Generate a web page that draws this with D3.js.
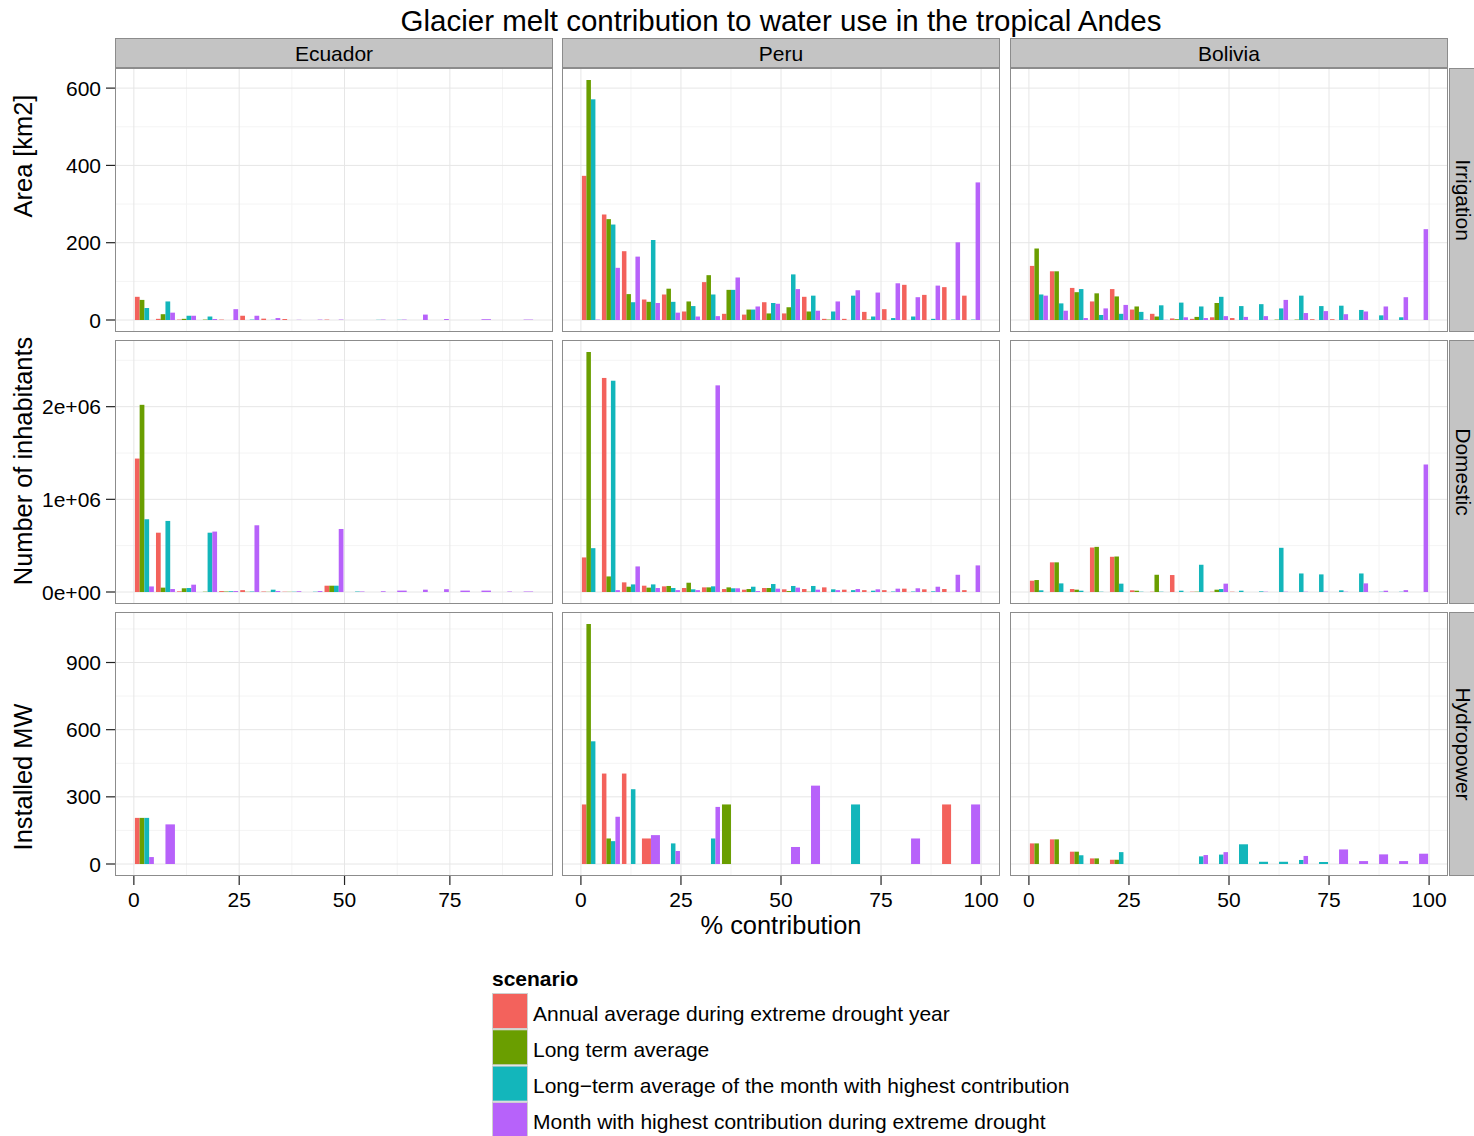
<!DOCTYPE html>
<html>
<head>
<meta charset="utf-8">
<title>Glacier melt contribution to water use in the tropical Andes</title>
<script src="https://cdnjs.cloudflare.com/ajax/libs/d3/7.8.5/d3.min.js"></script>
<style>
  body { margin: 0; background: #fff; }
  text { font-family: "Liberation Sans", Arial, sans-serif; fill: #000; }
</style>
</head>
<body>
<div id="chart"></div>
<script>
var countries = ["Ecuador", "Peru", "Bolivia"];
var uses = ["Irrigation", "Domestic", "Hydropower"];
var yTitles = ["Area [km2]", "Number of inhabitants", "Installed MW"];
var scenarios = [
  "Annual average during extreme drought year",
  "Long term average",
  "Long\u2212term average of the month with highest contribution",
  "Month with highest contribution during extreme drought"
];
var colors = ["#F3625C", "#6A9E00", "#13B6BB", "#B762FA"];

// bin centres of % contribution (5 % wide bins)
var bins = [2.5, 7.5, 12.5, 17.5, 22.5, 27.5, 32.5, 37.5, 42.5, 47.5,
            52.5, 57.5, 62.5, 67.5, 72.5, 77.5, 82.5, 87.5, 92.5, 97.5];

var xTicks = [0, 25, 50, 75, 100];
var irrigationTicks = [0, 200, 400, 600];
var domesticTicks = [0, 1e6, 2e6];
var domesticLabels = ["0e+00", "1e+06", "2e+06"];
var hydroTicks = [0, 300, 600, 900];

// one row per bin, one value per scenario; null = scenario absent in that bin
var ecuadorIrrigation = [
  [60, 52, 31, 0], [3, 15, 48, 19], [1, 3, 11, 11], [0, 1, 9, 2.5], [1, 0, 0, 28],
  [11, 0, 1, 11], [3.5, 0, 0.5, 5], [2.5, 0, 0, 0.5], [0, 0, 0, 1], [1, 0, 0, 1],
  [0, 0, 0, 0], [0, 0, 0.5, 1], [0, 0, 0.5, 1], [0, 0, 0, 14], [0, 0, 0, 2.5],
  [0, 0, 0, 0], [null, null, 0, 2], [0, 0, 0, 0], [null, null, 0, 1], null
];
var peruIrrigation = [
  [373, 621, 571, 1], [273, 261, 247, 135], [178, 67, 46, 164], [53, 47, 207, 44], [66, 81, 47, 19],
  [22, 48, 36, 9], [98, 116, 66, 10], [16, 78, 78, 110], [14, 27, 27, 35], [46, 17, 44, 42],
  [17, 33, 118, 80], [60, 22, 63, 24], [3, 1, 22, 48], [3, 0, 63, 77], [21, 1, 9, 71],
  [28, 0, 5, 95], [91, 0, 9, 59], [65, 0, 3, 89], [85, 0, 1, 201], [63, 0, 1, 356]
];
var boliviaIrrigation = [
  [140, 185, 66, 63], [126, 126, 43, 24], [83, 72, 80, 5], [48, 69, 13, 30], [80, 61, 16, 39],
  [27, 35, 21, 1], [16, 9, 38, 0.5], [4, 2, 45, 7], [3, 8, 35, 5], [7, 44, 60, 10],
  [5, 0, 36, 8], [0, 0, 41, 10], [0, 1, 30, 52], [0, 1, 63, 18], [2, 0, 36, 23],
  [2, 0, 37, 15], [0, 0, 26, 22], [0, 0, 12, 35], [0, 0, 7, 59], [0, 0, 0, 235]
];

var ecuadorDomestic = [
  [1440000, 2020000, 785000, 60000], [640000, 47000, 767000, 32000], [7000, 40000, 43000, 79000],
  [0, 3000, 640000, 652000], [10000, 5000, 8000, 10000], [20000, 2000, 5000, 720000],
  [5000, 2000, 25000, 10000], [3000, 2000, 3000, 8000], [0, 0, 3000, 10000],
  [68000, 68000, 68000, 680000], [0, 0, 5000, 5000], [0, 0, 0, 8000], [null, null, 0, 15000],
  [0, 0, 0, 25000], [0, 0, 0, 30000], [null, null, 0, 15000], [null, null, 0, 15000],
  [0, 0, 0, 5000], [null, null, 0, 5000], null
];
var peruDomestic = [
  [373000, 2590000, 473000, 0], [2310000, 168000, 2280000, 20000], [104000, 57000, 82000, 276000],
  [68000, 47000, 82000, 43000], [61000, 65000, 43000, 20000], [43000, 100000, 29000, 20000],
  [50000, 50000, 61000, 2230000], [32000, 50000, 40000, 40000], [25000, 32000, 57000, 10000],
  [43000, 43000, 86000, 36000], [29000, 10000, 65000, 47000], [32000, 3000, 65000, 25000],
  [50000, 0, 29000, 20000], [25000, 0, 20000, 32000], [20000, 0, 14000, 29000],
  [20000, 0, 5000, 36000], [36000, 0, 5000, 40000], [29000, 0, 7000, 57000],
  [32000, 0, 0, 186000], [20000, 0, 0, 287000]
];
var boliviaDomestic = [
  [122000, 129000, 18000, 0], [320000, 320000, 93000, 0], [32000, 25000, 14000, 0],
  [480000, 487000, 3000, 0], [380000, 383000, 90000, 0], [18000, 14000, 3000, 0],
  [3000, 186000, 3000, 0], [183000, 0, 14000, 0], [3000, 3000, 294000, 0],
  [3000, 25000, 32000, 90000], [3000, 0, 14000, 0], [0, 0, 7000, 3000],
  [0, 0, 477000, 3000], [0, 0, 200000, 3000], [0, 0, 190000, 3000],
  [0, 0, 18000, 3000], [0, 0, 200000, 93000], [0, 0, 3000, 14000],
  [0, 0, 3000, 20000], [0, 0, 0, 1376000]
];

var ecuadorHydro = [
  [206, 206, 206, 31], [null, null, 0, 177], null, null, null,
  null, null, null, null, null, null, null, null, null, null,
  null, null, null, null, null
];
var peruHydro = [
  [266, 1072, 548, 0], [404, 114, 102, 211], [404, 0, 334, 0], [114, null, null, 129], [0, 0, 92, 58],
  null, [0, 0, 114, 255], [null, 266, null, 0], null, null,
  [null, null, 0, 76], [null, null, 0, 350], null, [0, null, 266, null], null,
  null, [null, null, 0, 114], null, [266, null, null, 0], [null, null, 0, 266]
];
var boliviaHydro = [
  [92, 92, 0, 0], [110, 110, 0, 0], [55, 55, 39, 0], [25, 25, 0, 0], [19, 19, 53, 0],
  null, null, null, [0, 0, 34, 40], [0, 0, 42, 53],
  [null, 0, 88, null], [null, 0, 10, null], [null, 0, 10, null], [0, 0, 18, 36], [null, 0, 9, null],
  [null, null, 0, 65], [null, null, 0, 13], [null, null, 0, 43], [null, null, 0, 13], [null, null, 0, 46]
];

var panels = [
  [ecuadorIrrigation, peruIrrigation, boliviaIrrigation],
  [ecuadorDomestic, peruDomestic, boliviaDomestic],
  [ecuadorHydro, peruHydro, boliviaHydro]
];
var rowTicks = [irrigationTicks, domesticTicks, hydroTicks];
var rowLabels = [irrigationTicks.map(String), domesticLabels, hydroTicks.map(String)];

// layout
var width = 1474, height = 1136;
var colLeft = [115, 562, 1010];
var rowTop = [68, 340, 612];
var pw = 438, ph = 264;
var dodgeWidth = 4.5;

var svg = d3.select("#chart").append("svg")
  .attr("width", width)
  .attr("height", height);

// x scales: free per column, ggplot style 5% expansion of bar extent
var xScales = countries.map(function(c, ci) {
  var lo = Infinity, hi = -Infinity;
  panels.forEach(function(row) {
    row[ci].forEach(function(b, i) {
      if (b) {
        lo = Math.min(lo, bins[i] - dodgeWidth / 2);
        hi = Math.max(hi, bins[i] + dodgeWidth / 2);
      }
    });
  });
  var pad = (hi - lo) * 0.05;
  return d3.scaleLinear().domain([lo - pad, hi + pad]).range([colLeft[ci], colLeft[ci] + pw]);
});

// y scales: free per row
var yScales = uses.map(function(u, ri) {
  var mx = d3.max(panels[ri], function(p) {
    return d3.max(p, function(b) { return b ? d3.max(b) : 0; });
  });
  var pad = mx * 0.05;
  return d3.scaleLinear().domain([-pad, mx + pad]).range([rowTop[ri] + ph, rowTop[ri]]);
});

function minors(ticks, domain) {
  var step = ticks[1] - ticks[0];
  var out = [];
  for (var v = ticks[0] - step / 2; v <= domain[1]; v += step) {
    if (v >= domain[0]) out.push(v);
  }
  return out;
}

// title
svg.append("text")
  .attr("x", 781).attr("y", 31)
  .attr("text-anchor", "middle")
  .style("font-size", "29.5px")
  .text("Glacier melt contribution to water use in the tropical Andes");

panels.forEach(function(row, ri) {
  var y = yScales[ri];
  row.forEach(function(data, ci) {
    var x = xScales[ci];
    var g = svg.append("g");
    var x0 = colLeft[ci], y0 = rowTop[ri];

    g.append("rect").attr("x", x0).attr("y", y0).attr("width", pw).attr("height", ph).attr("fill", "#fff");

    // minor grid
    g.selectAll(".vminor").data(minors(xTicks, x.domain())).enter().append("line")
      .attr("x1", function(d) { return x(d); }).attr("x2", function(d) { return x(d); })
      .attr("y1", y0).attr("y2", y0 + ph)
      .attr("stroke", "#F4F4F4").attr("stroke-width", 1);
    g.selectAll(".hminor").data(minors(rowTicks[ri], y.domain())).enter().append("line")
      .attr("y1", function(d) { return y(d); }).attr("y2", function(d) { return y(d); })
      .attr("x1", x0).attr("x2", x0 + pw)
      .attr("stroke", "#F4F4F4").attr("stroke-width", 1);
    // major grid
    g.selectAll(".vmajor").data(xTicks.filter(function(t) { return t <= x.domain()[1]; })).enter().append("line")
      .attr("x1", function(d) { return x(d); }).attr("x2", function(d) { return x(d); })
      .attr("y1", y0).attr("y2", y0 + ph)
      .attr("stroke", "#E6E6E6").attr("stroke-width", 1);
    g.selectAll(".hmajor").data(rowTicks[ri]).enter().append("line")
      .attr("y1", function(d) { return y(d); }).attr("y2", function(d) { return y(d); })
      .attr("x1", x0).attr("x2", x0 + pw)
      .attr("stroke", "#E6E6E6").attr("stroke-width", 1);

    // dodged bars
    var bars = [];
    data.forEach(function(b, i) {
      if (!b) return;
      var present = [];
      b.forEach(function(v, s) { if (v !== null) present.push(s); });
      var w = dodgeWidth / present.length;
      present.forEach(function(s, k) {
        bars.push({ x0: bins[i] - dodgeWidth / 2 + k * w, x1: bins[i] - dodgeWidth / 2 + (k + 1) * w, v: b[s], s: s });
      });
    });
    g.selectAll(".bar").data(bars).enter().append("rect")
      .attr("x", function(d) { return x(d.x0); })
      .attr("width", function(d) { return x(d.x1) - x(d.x0); })
      .attr("y", function(d) { return y(d.v); })
      .attr("height", function(d) { return y(0) - y(d.v); })
      .attr("fill", function(d) { return colors[d.s]; });

    g.append("rect").attr("x", x0 + 0.5).attr("y", y0 + 0.5).attr("width", pw - 1).attr("height", ph - 1)
      .attr("fill", "none").attr("stroke", "#8C8C8C").attr("stroke-width", 1);

    // y axis on first column
    if (ci === 0) {
      var ya = svg.append("g");
      rowTicks[ri].forEach(function(t, k) {
        ya.append("line").attr("x1", x0 - 9).attr("x2", x0).attr("y1", y(t)).attr("y2", y(t))
          .attr("stroke", "#222").attr("stroke-width", 1.2);
        ya.append("text").attr("x", x0 - 14).attr("y", y(t)).attr("dy", "0.36em")
          .attr("text-anchor", "end").style("font-size", "21px").text(rowLabels[ri][k]);
      });
    }
    // x axis on last row
    if (ri === 2) {
      var xa = svg.append("g");
      xTicks.filter(function(t) { return t <= x.domain()[1]; }).forEach(function(t) {
        xa.append("line").attr("x1", x(t)).attr("x2", x(t)).attr("y1", y0 + ph).attr("y2", y0 + ph + 9)
          .attr("stroke", "#222").attr("stroke-width", 1.2);
        xa.append("text").attr("x", x(t)).attr("y", y0 + ph + 31)
          .attr("text-anchor", "middle").style("font-size", "21px").text(t);
      });
    }
  });
});

// top strips
countries.forEach(function(c, ci) {
  svg.append("rect").attr("x", colLeft[ci] + 0.5).attr("y", 38.5).attr("width", pw - 1).attr("height", 29)
    .attr("fill", "#C4C4C4").attr("stroke", "#8C8C8C");
  svg.append("text").attr("x", colLeft[ci] + pw / 2).attr("y", 61)
    .attr("text-anchor", "middle").style("font-size", "21px").text(c);
});
// right strips
uses.forEach(function(u, ri) {
  svg.append("rect").attr("x", 1449.5).attr("y", rowTop[ri] + 0.5).attr("width", 30).attr("height", ph - 1)
    .attr("fill", "#C4C4C4").attr("stroke", "#8C8C8C");
  svg.append("text")
    .attr("transform", "translate(1456," + (rowTop[ri] + ph / 2) + ") rotate(90)")
    .attr("text-anchor", "middle").style("font-size", "21px").text(u);
});

// axis titles
var yTitleY = [156, 461, 777];
yTitles.forEach(function(t, ri) {
  svg.append("text")
    .attr("transform", "translate(32," + yTitleY[ri] + ") rotate(-90)")
    .attr("text-anchor", "middle").style("font-size", "25.4px").text(t);
});
svg.append("text").attr("x", 781).attr("y", 934)
  .attr("text-anchor", "middle").style("font-size", "25.4px").text("% contribution");

// legend
var lg = svg.append("g").attr("transform", "translate(492,0)");
lg.append("text").attr("x", 0).attr("y", 986).style("font-size", "21px").style("font-weight", "bold").text("scenario");
scenarios.forEach(function(s, i) {
  var ky = 993 + i * 36.3;
  lg.append("rect").attr("x", 0.5).attr("y", ky + 0.5).attr("width", 35).attr("height", 35)
    .attr("fill", colors[i]).attr("stroke", "#CFCFCF");
  lg.append("text").attr("x", 41).attr("y", ky + 20).attr("dy", "0.36em")
    .style("font-size", "21px").text(s);
});
</script>
</body>
</html>
